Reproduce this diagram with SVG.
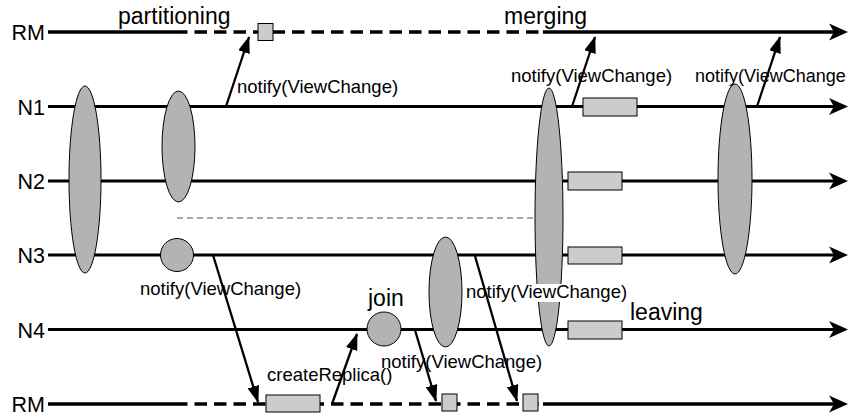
<svg xmlns="http://www.w3.org/2000/svg" xmlns:xlink="http://www.w3.org/1999/xlink" width="848" height="418" viewBox="0 0 848 418">
  <style>
    text { font-family: "Liberation Sans", Arial, sans-serif; fill: #000; }
    .lbl { font-size: 21.5px; text-anchor: end; }
    .phase { font-size: 23px; }
    .msg { font-size: 18.5px; }
    .life { stroke: #000; stroke-width: 3; fill: none; }
    .rm { stroke: #000; stroke-width: 3.5; fill: none; }
    .rmdash { stroke: #000; stroke-width: 3.5; fill: none; stroke-dasharray: 12.5 7; }
    .view { fill: #b3b3b3; stroke: #000; stroke-width: 1; }
    .box { fill: #cccccc; stroke: #000; stroke-width: 1; }
    .call { stroke: #000; stroke-width: 2.3; fill: none; marker-end: url(#tip); }
    .sep { stroke: #555; stroke-width: 1; stroke-dasharray: 6 4; fill: none; }
  </style>
  <defs>
    <marker id="tip" markerUnits="userSpaceOnUse" markerWidth="17" markerHeight="12" viewBox="0 0 17 12" refX="16" refY="6" orient="auto">
      <path d="M0,0 L17,6 L0,12 z" fill="#000"/>
    </marker>
    <path id="head" d="M0,0 L-19,-8.5 L-14,0 L-19,8.5 z" fill="#000"/>
  </defs>

  <!-- timelines -->
  <g id="lines">
    <text class="lbl" x="45" y="40">RM</text>
    <path class="rm" d="M48,32 H175"/>
    <path class="rmdash" d="M175,32 H543"/>
    <path class="rm" d="M543,32 H836"/>
    <use xlink:href="#head" x="848" y="32"/>

    <text class="lbl" x="45" y="114.5">N1</text>
    <path class="life" d="M48,106.5 H836"/>
    <use xlink:href="#head" x="848" y="106.5"/>

    <text class="lbl" x="45" y="189">N2</text>
    <path class="life" d="M48,181 H836"/>
    <use xlink:href="#head" x="848" y="181"/>

    <text class="lbl" x="45" y="263">N3</text>
    <path class="life" d="M48,255 H836"/>
    <use xlink:href="#head" x="848" y="255"/>

    <text class="lbl" x="45" y="337.5">N4</text>
    <path class="life" d="M48,329.5 H836"/>
    <use xlink:href="#head" x="848" y="329.5"/>

    <text class="lbl" x="45" y="412">RM</text>
    <path class="rm" d="M48,404 H175"/>
    <path class="rmdash" d="M175,404 H543"/>
    <path class="rm" d="M543,404 H836"/>
    <use xlink:href="#head" x="848" y="404"/>
  </g>

  <!-- partition boundary -->
  <path class="sep" d="M177,218 H533"/>

  <!-- view installations -->
  <g id="view1"><ellipse class="view" cx="85" cy="179.5" rx="16" ry="93.5"/></g>
  <g id="view2"><ellipse class="view" cx="178.5" cy="146.5" rx="16.5" ry="55.5"/></g>
  <g id="view3"><circle class="view" cx="177" cy="255" r="16.5"/></g>
  <g id="join"><circle class="view" cx="384" cy="329" r="17"/></g>
  <g id="view4"><ellipse class="view" cx="445.5" cy="292" rx="16.5" ry="55"/></g>
  <g id="merge"><ellipse class="view" cx="549" cy="217" rx="14" ry="129"/></g>
  <g id="view5"><ellipse class="view" cx="735" cy="179" rx="17" ry="95"/></g>

  <!-- replica manager activity -->
  <g id="rm-top"><rect class="box" x="258" y="23.5" width="15" height="17"/></g>
  <g id="rm-create"><rect class="box" x="266" y="395" width="54" height="17"/></g>
  <g id="rm-join"><rect class="box" x="442" y="394" width="15" height="17"/></g>
  <g id="rm-leave"><rect class="box" x="523" y="394" width="15" height="17"/></g>

  <!-- state transfer after merge -->
  <g id="sync-n1"><rect class="box" x="583" y="98" width="54" height="18"/></g>
  <g id="sync-n2"><rect class="box" x="568" y="172" width="54" height="18"/></g>
  <g id="sync-n3"><rect class="box" x="568" y="247" width="54" height="17"/></g>
  <g id="sync-n4"><rect class="box" x="568" y="321" width="54" height="18"/></g>

  <!-- phase labels -->
  <text class="phase" x="118" y="24">partitioning</text>
  <text class="phase" x="504" y="24">merging</text>
  <text class="phase" x="368" y="306">join</text>
  <text class="phase" x="630" y="320">leaving</text>

  <!-- message labels -->
  <text class="msg" x="237" y="93">notify(ViewChange)</text>
  <text class="msg" x="511" y="82">notify(ViewChange)</text>
  <text class="msg" x="695" y="82" style="font-size:18px">notify(ViewChange</text>
  <text class="msg" x="140" y="295">notify(ViewChange)</text>
  <rect x="465" y="284" width="160" height="18" fill="#fff"/>
  <text class="msg" x="466" y="298">notify(ViewChange)</text>
  <text class="msg" x="381" y="368">notify(ViewChange)</text>
  <text class="msg" x="267" y="381">createReplica()</text>

  <!-- messages -->
  <g id="connectors">
    <path class="call" d="M226,106.5 L249,37"/>
    <path class="call" d="M572,106.5 L595,37"/>
    <path class="call" d="M757,106.5 L780,37"/>
    <path class="call" d="M213,255 L258,402"/>
    <path class="call" d="M332,404 L357,334"/>
    <path class="call" d="M415,330 L436,401"/>
    <path class="call" d="M475,256 L517,401"/>
  </g>
</svg>
